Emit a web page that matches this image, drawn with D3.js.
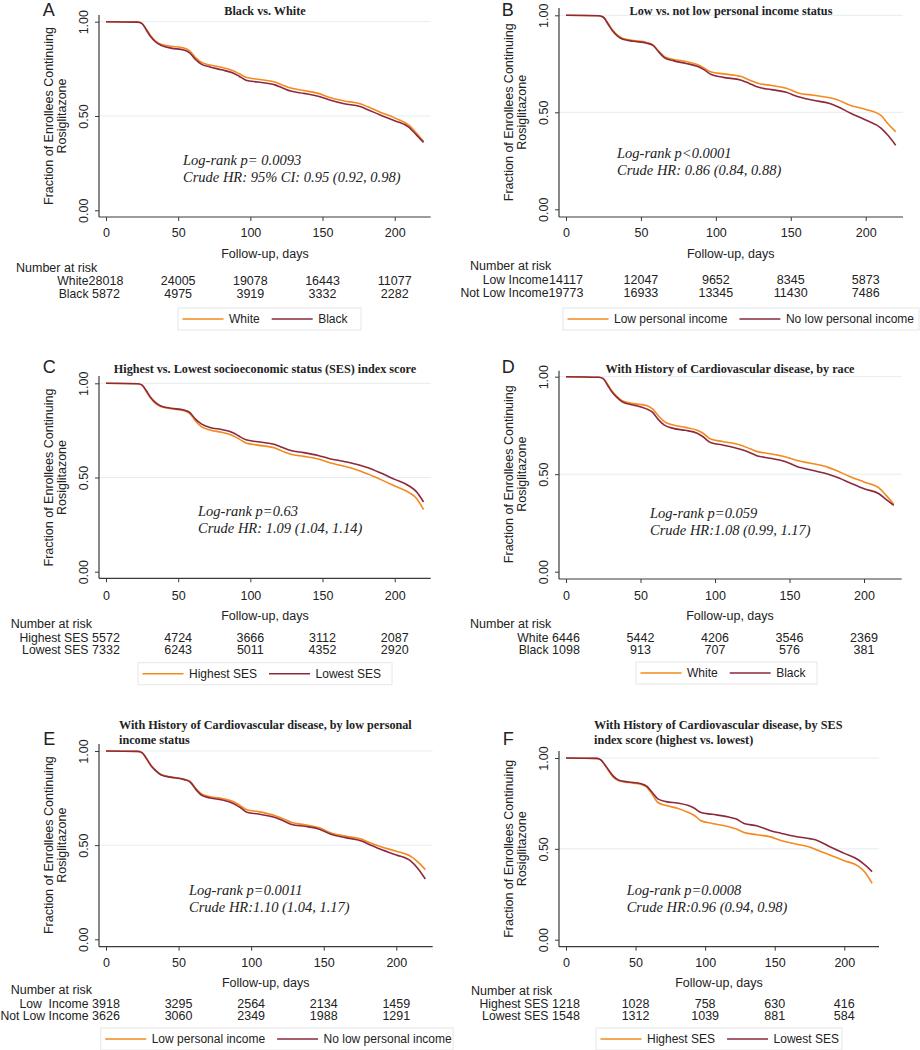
<!DOCTYPE html>
<html><head><meta charset="utf-8">
<script src="https://cdn.jsdelivr.net/npm/d3@7"></script>
<style>body{margin:0;background:#fff}svg text{white-space:pre}</style>
</head><body>
<svg id="c" width="920" height="1050"></svg>
<script>
// ---------- data ----------
const days = [0,22,25,28,31,34,38,45,54,58,62,66,72,80,88,92,97,105,117,122,128,137,147,155,165,176,181,190,200,210,215,220];
const xTicks = [0,50,100,150,200];
const yTicks = [0,0.5,1];

const aWhite = [1,0.998,0.99,0.96,0.925,0.9,0.88,0.87,0.86,0.845,0.81,0.785,0.77,0.758,0.74,0.725,0.705,0.695,0.68,0.665,0.648,0.635,0.62,0.598,0.58,0.565,0.55,0.52,0.49,0.45,0.41,0.365];
const aBlack = [1,0.998,0.99,0.955,0.92,0.895,0.875,0.86,0.85,0.835,0.8,0.775,0.76,0.745,0.728,0.712,0.69,0.68,0.665,0.65,0.632,0.62,0.605,0.585,0.565,0.55,0.535,0.505,0.475,0.44,0.4,0.36];
const bLow = [1,0.998,0.99,0.96,0.925,0.9,0.88,0.87,0.86,0.848,0.815,0.785,0.772,0.762,0.745,0.728,0.708,0.698,0.684,0.668,0.65,0.638,0.624,0.6,0.588,0.575,0.565,0.535,0.515,0.485,0.44,0.40];
const bNotLow = [1,0.998,0.99,0.955,0.92,0.895,0.876,0.866,0.856,0.845,0.81,0.78,0.765,0.752,0.736,0.72,0.695,0.68,0.665,0.65,0.63,0.617,0.603,0.58,0.562,0.545,0.53,0.495,0.46,0.42,0.38,0.33];
const cHighest = [1,0.998,0.99,0.955,0.92,0.895,0.877,0.865,0.855,0.84,0.8,0.77,0.752,0.74,0.722,0.705,0.683,0.672,0.656,0.64,0.623,0.612,0.598,0.578,0.56,0.535,0.52,0.49,0.455,0.42,0.39,0.33];
const cLowest = [1,0.998,0.99,0.96,0.925,0.9,0.88,0.868,0.858,0.845,0.81,0.785,0.765,0.755,0.738,0.72,0.7,0.69,0.675,0.66,0.643,0.632,0.617,0.6,0.585,0.565,0.553,0.525,0.49,0.455,0.425,0.37];
const dWhite = [1,0.997,0.99,0.96,0.925,0.9,0.875,0.862,0.852,0.835,0.8,0.77,0.752,0.74,0.725,0.71,0.68,0.668,0.65,0.635,0.617,0.605,0.59,0.57,0.555,0.535,0.52,0.49,0.46,0.43,0.39,0.345];
const dBlack = [1,0.997,0.99,0.955,0.92,0.895,0.87,0.855,0.835,0.818,0.78,0.752,0.735,0.725,0.71,0.692,0.662,0.65,0.628,0.615,0.595,0.582,0.565,0.54,0.52,0.5,0.487,0.458,0.425,0.4,0.37,0.34];
const eLow = [1,0.998,0.99,0.96,0.925,0.9,0.875,0.862,0.85,0.838,0.8,0.77,0.757,0.748,0.73,0.712,0.688,0.678,0.655,0.64,0.62,0.608,0.592,0.565,0.548,0.532,0.515,0.49,0.468,0.44,0.41,0.37];
const eNotLow = [1,0.998,0.99,0.958,0.922,0.897,0.872,0.86,0.848,0.835,0.795,0.765,0.75,0.74,0.72,0.702,0.675,0.665,0.645,0.63,0.61,0.6,0.585,0.558,0.54,0.522,0.505,0.475,0.448,0.415,0.375,0.32];
const fHighest = [1,0.998,0.99,0.96,0.925,0.895,0.875,0.865,0.855,0.84,0.8,0.755,0.738,0.724,0.7,0.685,0.655,0.64,0.622,0.61,0.59,0.578,0.566,0.545,0.527,0.508,0.492,0.465,0.435,0.405,0.37,0.31];
const fLowest = [1,0.998,0.99,0.962,0.93,0.9,0.878,0.868,0.858,0.845,0.81,0.775,0.76,0.752,0.738,0.725,0.7,0.69,0.675,0.665,0.64,0.627,0.6,0.585,0.568,0.555,0.545,0.51,0.475,0.44,0.41,0.375];

const aRiskWhite = [28018,24005,19078,16443,11077], aRiskBlack = [5872,4975,3919,3332,2282];
const bRiskLow = [14117,12047,9652,8345,5873], bRiskNotLow = [19773,16933,13345,11430,7486];
const cRiskHighest = [5572,4724,3666,3112,2087], cRiskLowest = [7332,6243,5011,4352,2920];
const dRiskWhite = [6446,5442,4206,3546,2369], dRiskBlack = [1098,913,707,576,381];
const eRiskLow = [3918,3295,2564,2134,1459], eRiskNotLow = [3626,3060,2349,1988,1291];
const fRiskHighest = [1218,1028,758,630,416], fRiskLowest = [1548,1312,1039,881,584];

// ---------- style ----------
const ORANGE = '#f5891f', MAROON = '#8b2a3c';
const AXIS = '#3a3a3a', GRID = '#e3edf1';
const SANS = "'Liberation Sans', Arial, sans-serif";
const SERIF = "'Liberation Serif', 'Times New Roman', serif";

// ---------- layout per panel ----------
const panels = [
 {letter:'A', lx:42.7, ly:16, title:['Black vs. White'], tx:265, ty:15, tAnchor:'middle',
  axisX:99, x0:106, x200:394.7, right:430.7, y1:21.7, y0:210.3, axisY:217, axisTop:15,
  ann:['Log-rank p= 0.0093','Crude HR: 95% CI: 0.95 (0.92, 0.98)'], ax:183, ay:165,
  tickY:237.3, xlabX:265, xlabY:257.5, narX:16, narY:[271.7,285,297.7], leg:[178,308,361],
  s:[{v:aWhite,c:ORANGE,r:aRiskWhite,rl:'White',ll:'White'},{v:aBlack,c:MAROON,r:aRiskBlack,rl:'Black',ll:'Black'}]},
 {letter:'B', lx:501.7, ly:16, title:['Low vs. not low personal income status'], tx:731, ty:15, tAnchor:'middle',
  axisX:559, x0:566, x200:865.7, right:903, y1:15.3, y0:209.3, axisY:217, axisTop:8,
  ann:['Log-rank p<0.0001','Crude HR: 0.86 (0.84, 0.88)'], ax:617, ay:157.7,
  tickY:237.3, xlabX:730.7, xlabY:257.5, narX:470, narY:[270,283.7,297], leg:[563,308,919],
  s:[{v:bLow,c:ORANGE,r:bRiskLow,rl:'Low Income',ll:'Low personal income'},{v:bNotLow,c:MAROON,r:bRiskNotLow,rl:'Not Low Income',ll:'No low personal income'}]},
 {letter:'C', lx:42.7, ly:372.7, title:['Highest vs. Lowest socioeconomic status (SES) index score'], tx:265, ty:373, tAnchor:'middle',
  axisX:99, x0:106, x200:394.7, right:430.7, y1:383.3, y0:571.7, axisY:578.3, axisTop:376,
  ann:['Log-rank p=0.63','Crude HR: 1.09 (1.04, 1.14)'], ax:198, ay:516,
  tickY:599.7, xlabX:265, xlabY:619.5, narX:10.7, narY:[628.3,641.7,654.3], leg:[138,662.7,392],
  s:[{v:cHighest,c:ORANGE,r:cRiskHighest,rl:'Highest SES',ll:'Highest SES'},{v:cLowest,c:MAROON,r:cRiskLowest,rl:'Lowest SES',ll:'Lowest SES'}]},
 {letter:'D', lx:501.7, ly:372.7, title:['With History of Cardiovascular disease, by race'], tx:730, ty:373, tAnchor:'middle',
  axisX:559, x0:566, x200:864, right:901.7, y1:376.7, y0:571.7, axisY:579, axisTop:370.7,
  ann:['Log-rank p=0.059','Crude HR:1.08 (0.99, 1.17)'], ax:650, ay:518.3,
  tickY:599.7, xlabX:730, xlabY:619.5, narX:470, narY:[627.7,641.7,654.3], leg:[636,662,817],
  s:[{v:dWhite,c:ORANGE,r:dRiskWhite,rl:'White',ll:'White'},{v:dBlack,c:MAROON,r:dRiskBlack,rl:'Black',ll:'Black'}]},
 {letter:'E', lx:43.3, ly:745, title:['With History of Cardiovascular disease, by low personal','income status'], tx:119, ty:729.3, tAnchor:'start',
  axisX:99, x0:106, x200:396.3, right:432.7, y1:751, y0:939.3, axisY:946.7, axisTop:744,
  ann:['Log-rank p=0.0011','Crude HR:1.10 (1.04, 1.17)'], ax:189, ay:895,
  tickY:967, xlabX:265.7, xlabY:987.3, narX:10.7, narY:[994.3,1007.7,1020.3], leg:[100.7,1028,453],
  s:[{v:eLow,c:ORANGE,r:eRiskLow,rl:'Low  Income',ll:'Low personal income'},{v:eNotLow,c:MAROON,r:eRiskNotLow,rl:'Not Low Income',ll:'No low personal income'}]},
 {letter:'F', lx:502.7, ly:745, title:['With History of Cardiovascular disease, by SES','index score (highest vs. lowest)'], tx:594, ty:729.3, tAnchor:'start',
  axisX:559, x0:566, x200:844.3, right:879, y1:758, y0:939.7, axisY:946.7, axisTop:751,
  ann:['Log-rank p=0.0008','Crude HR:0.96 (0.94, 0.98)'], ax:626.7, ay:895,
  tickY:967, xlabX:719, xlabY:987.3, narX:471, narY:[995,1008,1020.3], leg:[596,1028,842],
  s:[{v:fHighest,c:ORANGE,r:fRiskHighest,rl:'Highest SES',ll:'Highest SES'},{v:fLowest,c:MAROON,r:fRiskLowest,rl:'Lowest SES',ll:'Lowest SES'}]}
];

const svg = d3.select('#c');

function drawPanel(p){
  const g = svg.append('g');
  const x = d3.scaleLinear().domain([0,200]).range([p.x0,p.x200]);
  const y = d3.scaleLinear().domain([0,1]).range([p.y0,p.y1]);

  // gridlines
  g.selectAll('line.grid').data(yTicks.filter(v=>v>0)).join('line')
    .attr('x1',p.axisX).attr('x2',p.right).attr('y1',d=>y(d)).attr('y2',d=>y(d))
    .attr('stroke',GRID).attr('stroke-width',1);

  // y axis
  const ya = g.append('g').attr('transform',`translate(${p.axisX},0)`)
    .call(d3.axisLeft(y).tickValues(yTicks).tickSize(4).tickFormat(d3.format('.2f')));
  ya.select('.domain').remove();
  ya.selectAll('line').attr('stroke',AXIS);
  ya.selectAll('text').attr('x',null).attr('dy',null)
    .attr('transform','translate(-10.7,0) rotate(-90)').attr('text-anchor','middle')
    .attr('font-family',SANS).attr('font-size',12.5).attr('fill','#222');
  g.append('line').attr('x1',p.axisX).attr('x2',p.axisX).attr('y1',p.axisTop).attr('y2',p.axisY)
    .attr('stroke',AXIS).attr('stroke-width',1.2);

  // x axis
  const xa = g.append('g').attr('transform',`translate(0,${p.axisY})`)
    .call(d3.axisBottom(x).tickValues(xTicks).tickSize(4).tickFormat(d3.format('d')));
  xa.select('.domain').remove();
  xa.selectAll('line').attr('stroke',AXIS);
  xa.selectAll('text').attr('dy',null).attr('y',p.tickY-p.axisY)
    .attr('font-family',SANS).attr('font-size',12.5).attr('fill','#222');
  g.append('line').attr('x1',p.axisX).attr('x2',p.right).attr('y1',p.axisY).attr('y2',p.axisY)
    .attr('stroke',AXIS).attr('stroke-width',1.2);

  // y axis title
  const ymid = y(0.5);
  [['Fraction of Enrollees Continuing',p.axisX-46.5],['Rosiglitazone',p.axisX-32.7]].forEach(([t,bx])=>{
    g.append('text').attr('transform',`translate(${bx},${ymid}) rotate(-90)`).attr('text-anchor','middle')
      .attr('font-family',SANS).attr('font-size',12.5).attr('fill','#222').text(t);
  });

  // x axis title
  g.append('text').attr('x',p.xlabX).attr('y',p.xlabY).attr('text-anchor','middle')
    .attr('font-family',SANS).attr('font-size',12.5).attr('fill','#222').text('Follow-up, days');

  // panel letter
  g.append('text').attr('x',p.lx).attr('y',p.ly).attr('font-family',SANS).attr('font-size',18)
    .attr('fill','#222').text(p.letter);

  // title
  p.title.forEach((t,i)=>{
    g.append('text').attr('x',p.tx).attr('y',p.ty+i*15).attr('text-anchor',p.tAnchor)
      .attr('font-family',SERIF).attr('font-weight','bold').attr('font-size',12.2).attr('fill','#222').text(t);
  });

  // curves
  const line = d3.line().x((d,i)=>x(days[i])).y(d=>y(d)).curve(d3.curveMonotoneX);
  p.s.forEach(s=>{
    g.append('path').attr('d',line(s.v)).attr('fill','none').attr('stroke',s.c).attr('stroke-width',1.6);
  });

  // annotation
  p.ann.forEach((t,i)=>{
    g.append('text').attr('x',p.ax).attr('y',p.ay+i*17).attr('font-family',SERIF).attr('font-style','italic')
      .attr('font-size',14.5).attr('fill','#222').text(t);
  });

  // number at risk
  g.append('text').attr('x',p.narX).attr('y',p.narY[0]).attr('font-family',SANS).attr('font-size',12.5)
    .attr('fill','#222').text('Number at risk');
  p.s.forEach((s,j)=>{
    const ry = p.narY[j+1];
    g.append('text').attr('x',p.x0-17.5).attr('y',ry).attr('text-anchor','end').attr('font-family',SANS)
      .attr('font-size',12.2).attr('fill','#222').text(s.rl);
    g.selectAll(null).data(s.r).join('text').attr('x',(d,i)=>x(xTicks[i])).attr('y',ry)
      .attr('text-anchor','middle').attr('font-family',SANS).attr('font-size',12.5).attr('fill','#222').text(d=>d);
  });

  // legend
  const lg = g.append('g');
  lg.append('rect').attr('x',p.leg[0]).attr('y',p.leg[1]).attr('height',22).attr('width',p.leg[2]-p.leg[0])
    .attr('fill','#fff').attr('stroke','#e6e6e6').attr('stroke-width',1);
  let cx = p.leg[0]+4.5;
  p.s.forEach((s,j)=>{
    lg.append('line').attr('x1',cx).attr('x2',cx+41).attr('y1',p.leg[1]+11).attr('y2',p.leg[1]+11)
      .attr('stroke',s.c).attr('stroke-width',1.6);
    cx += 46.5;
    const t = lg.append('text').attr('x',cx).attr('y',p.leg[1]+15.3).attr('font-family',SANS)
      .attr('font-size',12).attr('fill','#222').text(s.ll);
    cx += t.node().getComputedTextLength() + 12;
  });
}

panels.forEach(drawPanel);
</script>
</body></html>
